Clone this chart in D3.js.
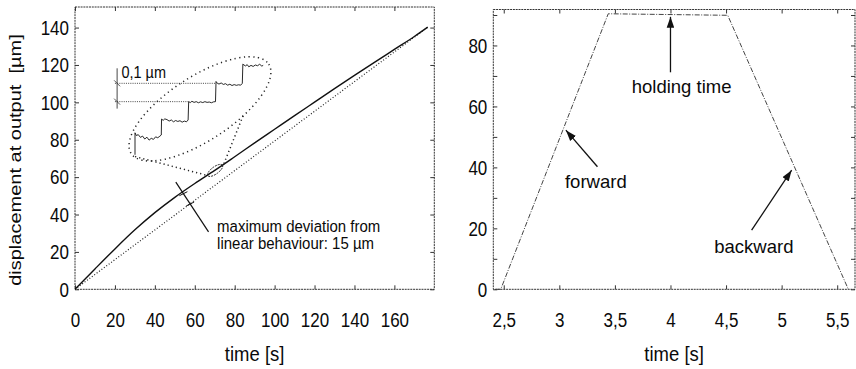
<!DOCTYPE html>
<html>
<head>
<meta charset="utf-8">
<script src="https://cdn.jsdelivr.net/npm/d3@7"></script>
<style>
  body { margin: 0; background: #fff; }
  text { font-family: "Liberation Sans", Arial, sans-serif; fill: #0a0a0a; }
</style>
</head>
<body>
<script>
// left chart: displacement vs time
const timeL = [0, 10, 20, 30, 40, 50, 60, 70, 80, 90, 100, 110, 120, 130, 140, 150, 160, 170, 176.7]
const dispMeasured = [0, 10.9, 21.6, 31.8, 41, 49.2, 56.6, 63.6, 70.9, 78.3, 85.6, 92.9, 100.1, 107.3, 114.4, 121.4, 128.3, 135.2, 140.2]
const timeLinear = [0, 176.7]
const dispLinear = [0, 140.2]
const xTicksL = [0, 20, 40, 60, 80, 100, 120, 140, 160]
const yTicksL = [0, 20, 40, 60, 80, 100, 120, 140]

// zoomed staircase inset (step index, µm)
const insetTime = [0, 0, 0.05, 0.12, 0.2, 0.28, 0.36, 0.44, 0.52, 0.6, 0.68, 0.76, 0.84, 0.92, 0.97,
  0.98, 1.04, 1.1, 1.18, 1.26, 1.34, 1.42, 1.5, 1.58, 1.66, 1.74, 1.82, 1.9, 1.96,
  1.98, 2.04, 2.1, 2.18, 2.26, 2.34, 2.42, 2.5, 2.58, 2.66, 2.74, 2.82, 2.9, 2.97,
  2.99, 3.04, 3.1, 3.18, 3.26, 3.34, 3.42, 3.5, 3.58, 3.66, 3.74, 3.82, 3.9, 3.96,
  3.98, 4.02, 4.08, 4.14, 4.2, 4.28, 4.36, 4.44, 4.52, 4.6, 4.68, 4.73]
const insetUm = [-0.09, 0.03, 0.015, 0.02, 0.005, 0.012, -0.004, 0.006, -0.01, 0.0, -0.006, 0.008, 0.003, 0.012, 0.018,
  0.105, 0.098, 0.106, 0.102, 0.094, 0.1, 0.09, 0.097, 0.092, 0.096, 0.088, 0.094, 0.09, 0.1,
  0.2, 0.195, 0.202, 0.196, 0.2, 0.194, 0.199, 0.195, 0.2, 0.196, 0.198, 0.194, 0.199, 0.2,
  0.31, 0.3, 0.296, 0.302, 0.294, 0.298, 0.29, 0.295, 0.288, 0.293, 0.289, 0.292, 0.29, 0.3,
  0.405, 0.4, 0.395, 0.402, 0.39, 0.398, 0.392, 0.4, 0.396, 0.404, 0.394, 0.398]
const insetRefLevels = [0.2, 0.3]
const insetRefEnds = [2, 3]

// right chart: forward / hold / backward
const timeR = [2.43, 2.473, 3.44, 4.515, 5.6]
const dispR = [0, 0, 90.4, 89.9, 0]
const xTicksR = [2.5, 3, 3.5, 4, 4.5, 5, 5.5]
const yTicksR = [0, 10, 20, 30, 40, 50, 60, 70, 80, 90]

const svg = d3.select("body").append("svg").attr("width", 856).attr("height", 369)

const defs = svg.append("defs")
defs.append("marker").attr("id", "arrow")
    .attr("viewBox", "0 -4 11 8").attr("refX", 11).attr("refY", 0)
    .attr("markerUnits", "userSpaceOnUse")
    .attr("markerWidth", 11).attr("markerHeight", 8).attr("orient", "auto")
    .append("path").attr("d", "M0,-3.8L11,0L0,3.8Z").attr("fill", "#111")

const xL = d3.scaleLinear().domain([0, 180]).range([75, 434.3])
const yL = d3.scaleLinear().domain([0, 151]).range([289.3, 7])
const xR = d3.scaleLinear().domain([2.406, 5.66]).range([493.3, 855])
const yR = d3.scaleLinear().domain([0, 91.8]).range([289.3, 9.5])

const comma = d => String(d).replace(".", ",")

function drawFrame(x, y, xTicks, yTicks, yLabels) {
    const g = svg.append("g")
    const [x0, x1] = x.range()
    const [y0, y1] = y.range()

    g.append("rect")
        .attr("x", x0).attr("y", y1)
        .attr("width", x1 - x0).attr("height", y0 - y1)
        .attr("fill", "none").attr("stroke", "#333")
        .attr("stroke-width", 1).attr("stroke-dasharray", "2,0.8")

    const bottom = g.append("g").attr("transform", "translate(0," + y0 + ")")
        .call(d3.axisBottom(x).tickValues(xTicks).tickSizeInner(-4).tickSizeOuter(0).tickFormat(comma))
    const top = g.append("g").attr("transform", "translate(0," + y1 + ")")
        .call(d3.axisTop(x).tickValues(xTicks).tickSizeInner(-4).tickSizeOuter(0).tickFormat(""))
    const left = g.append("g").attr("transform", "translate(" + x0 + ",0)")
        .call(d3.axisLeft(y).tickValues(yTicks).tickSizeInner(-4).tickSizeOuter(0)
            .tickFormat(d => yLabels.includes(d) ? d : ""))
    const right = g.append("g").attr("transform", "translate(" + x1 + ",0)")
        .call(d3.axisRight(y).tickValues(yTicks).tickSizeInner(-4).tickSizeOuter(0).tickFormat(""))

    ;[bottom, top, left, right].forEach(a => {
        a.select(".domain").remove()
        a.selectAll("line").attr("stroke", "#333")
        a.attr("font-family", null).attr("font-size", null)
    })

    bottom.selectAll("text")
        .attr("y", null).attr("dy", null)
        .attr("transform", "translate(0,38) scale(1,1.14)")
        .style("font-size", "17px")
    left.selectAll("text")
        .attr("x", null).attr("dy", null)
        .attr("text-anchor", "end")
        .attr("transform", "translate(-6,6.8) scale(1,1.14)")
        .style("font-size", "17px")
    return g
}

// ---------- left chart ----------
drawFrame(xL, yL, xTicksL, yTicksL, yTicksL)

const lineL = d3.line().x(d => xL(d[0])).y(d => yL(d[1])).curve(d3.curveMonotoneX)

svg.append("path")
    .datum(timeLinear.map((t, i) => [t, dispLinear[i]]))
    .attr("d", lineL)
    .attr("fill", "none").attr("stroke", "#222")
    .attr("stroke-width", 1.2).attr("stroke-dasharray", "1,2")

svg.append("path")
    .datum(timeL.map((t, i) => [t, dispMeasured[i]]))
    .attr("d", lineL)
    .attr("fill", "none").attr("stroke", "#111").attr("stroke-width", 1.4)

// small ellipse on the curve + zoom links + big ellipse
const small = { t: 70.2, v: 63.6 }
const big = { t: 62.6, v: 96.5 }
svg.append("ellipse")
    .attr("transform", "translate(" + xL(small.t) + "," + yL(small.v) + ") rotate(-36)")
    .attr("rx", 9).attr("ry", 3.6)
    .attr("fill", "none").attr("stroke", "#222").attr("stroke-width", 0.9).attr("stroke-dasharray", "2,1")
svg.append("ellipse")
    .attr("transform", "translate(" + xL(big.t) + "," + yL(big.v) + ") rotate(-33)")
    .attr("rx", 82).attr("ry", 32)
    .attr("fill", "none").attr("stroke", "#222").attr("stroke-width", 1.5).attr("stroke-dasharray", "1.2,3.5")

const zoomLinks = [[[30.1, 71.0], [65.6, 61.1]], [[84.2, 92.8], [74.6, 67.2]]]
svg.selectAll(".zoomlink").data(zoomLinks).enter().append("line")
    .attr("class", "zoomlink")
    .attr("x1", d => xL(d[0][0])).attr("y1", d => yL(d[0][1]))
    .attr("x2", d => xL(d[1][0])).attr("y2", d => yL(d[1][1]))
    .attr("stroke", "#222").attr("stroke-width", 1.5).attr("stroke-dasharray", "1.2,3")

// inset staircase
const ix = d3.scaleLinear().domain([0, 4]).range([135, 243.4])
const iy = d3.scaleLinear().domain([0, 0.4]).range([138.3, 65])

svg.append("path")
    .datum(insetTime.map((t, i) => [t, insetUm[i]]))
    .attr("d", d3.line().x(d => ix(d[0])).y(d => iy(d[1])))
    .attr("fill", "none").attr("stroke", "#111").attr("stroke-width", 0.9)

svg.selectAll(".ref").data(insetRefLevels).enter().append("line")
    .attr("class", "ref")
    .attr("x1", ix(-0.74)).attr("x2", (d, i) => ix(insetRefEnds[i]))
    .attr("y1", d => iy(d)).attr("y2", d => iy(d))
    .attr("stroke", "#333").attr("stroke-width", 0.9).attr("stroke-dasharray", "1,1.2")

svg.append("line")
    .attr("x1", ix(-0.66)).attr("x2", ix(-0.66))
    .attr("y1", iy(0.382)).attr("y2", iy(0.162))
    .attr("stroke", "#333").attr("stroke-width", 0.9)
svg.selectAll(".refmark").data(insetRefLevels).enter().append("line")
    .attr("class", "refmark")
    .attr("x1", ix(-0.66) - 3).attr("x2", ix(-0.66) + 3)
    .attr("y1", d => iy(d) - 3).attr("y2", d => iy(d) + 3)
    .attr("stroke", "#333").attr("stroke-width", 0.8)

svg.append("text")
    .attr("transform", "translate(" + ix(-0.5) + "," + iy(0.328) + ") scale(1,1.12)")
    .style("font-size", "14.5px")
    .text("0,1 µm")

// deviation leader
const leader = [[50.5, 57.3], [66.9, 30.7]]
svg.append("line")
    .attr("x1", xL(leader[0][0])).attr("y1", yL(leader[0][1]))
    .attr("x2", xL(leader[1][0])).attr("y2", yL(leader[1][1]))
    .attr("stroke", "#111").attr("stroke-width", 1.2)
const markT = [54.3, 57.7]
const leaderV = t => leader[0][1] + (t - leader[0][0]) * (leader[1][1] - leader[0][1]) / (leader[1][0] - leader[0][0])
svg.selectAll(".mark").data(markT).enter().append("line")
    .attr("class", "mark")
    .attr("x1", d => xL(d) - 4).attr("y1", d => yL(leaderV(d)) + 2)
    .attr("x2", d => xL(d) + 4).attr("y2", d => yL(leaderV(d)) - 2)
    .attr("stroke", "#111").attr("stroke-width", 1)

const devLines = ["maximum deviation from", "linear behaviour: 15 µm"]
svg.selectAll(".dev").data(devLines).enter().append("text")
    .attr("class", "dev")
    .attr("transform", (d, i) => "translate(" + xL(71.2) + "," + yL(30.9 - i * 9.3) + ") scale(1,1.06)")
    .style("font-size", "15px")
    .text(d => d)

// axis titles left
svg.append("text")
    .attr("transform", "translate(" + d3.mean(xL.range()) + ",361) scale(1,1.05)")
    .attr("text-anchor", "middle").style("font-size", "18.5px")
    .text("time [s]")
svg.append("text")
    .attr("transform", "translate(21,160) scale(1,1.25) rotate(-90)")
    .attr("text-anchor", "middle").style("font-size", "16px")
    .attr("xml:space", "preserve")
    .text("displacement at output  [µm]")

// ---------- right chart ----------
drawFrame(xR, yR, xTicksR, yTicksR, [0, 20, 40, 60, 80])

svg.append("path")
    .datum(timeR.map((t, i) => [t, dispR[i]]))
    .attr("d", d3.line().x(d => xR(d[0])).y(d => yR(d[1])))
    .attr("fill", "none").attr("stroke", "#444")
    .attr("stroke-width", 1).attr("stroke-dasharray", "5,1.5,1,1.5")

const arrows = [
    { from: [4.0, 71.2], to: [4.0, 89.4] },
    { from: [3.343, 40.2], to: [3.059, 52.2] },
    { from: [4.73, 19.4], to: [5.09, 39.1] }
]
svg.selectAll(".arrow").data(arrows).enter().append("line")
    .attr("class", "arrow")
    .attr("x1", d => xR(d.from[0])).attr("y1", d => yR(d.from[1]))
    .attr("x2", d => xR(d.to[0])).attr("y2", d => yR(d.to[1]))
    .attr("stroke", "#111").attr("stroke-width", 1.3)
    .attr("marker-end", "url(#arrow)")

const notes = [
    { text: "holding time", t: 4.1, v: 64.3, anchor: "middle" },
    { text: "forward", t: 3.051, v: 33.1, anchor: "start" },
    { text: "backward", t: 4.394, v: 11.9, anchor: "start" }
]
svg.selectAll(".note").data(notes).enter().append("text")
    .attr("class", "note")
    .attr("x", d => xR(d.t)).attr("y", d => yR(d.v))
    .attr("text-anchor", d => d.anchor)
    .style("font-size", "18.5px")
    .text(d => d.text)

svg.append("text")
    .attr("transform", "translate(" + d3.mean(xR.range()) + ",361) scale(1,1.05)")
    .attr("text-anchor", "middle").style("font-size", "18.5px")
    .text("time [s]")
</script>
</body>
</html>
